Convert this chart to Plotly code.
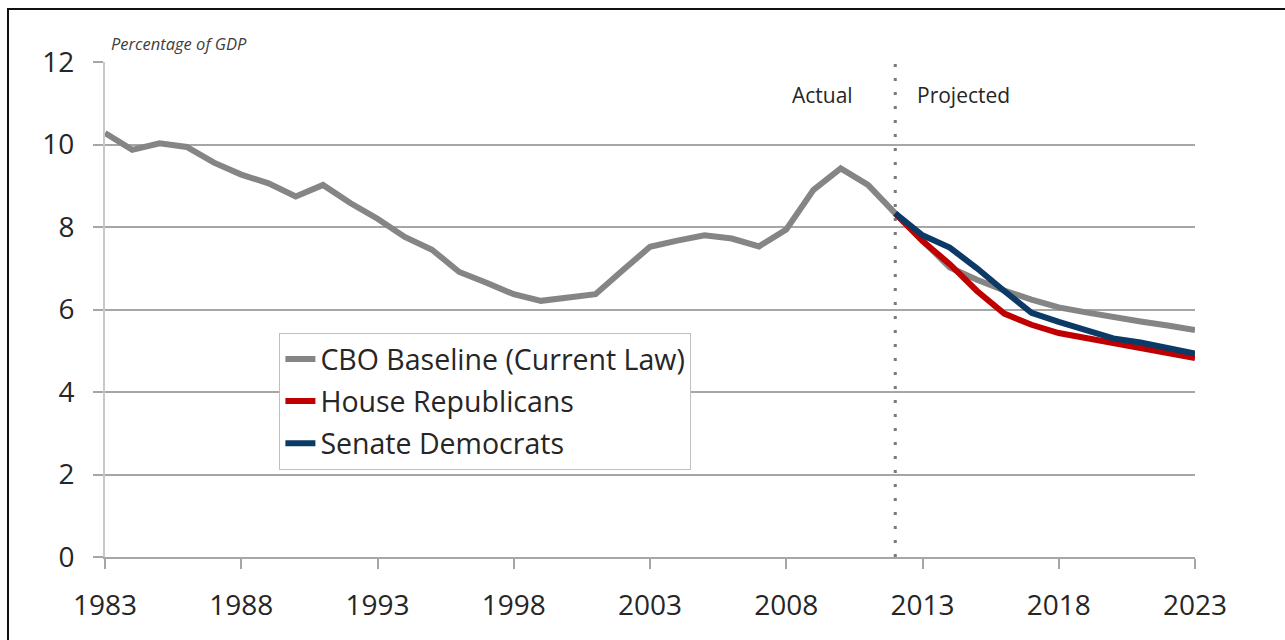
import plotly.graph_objects as go

# Interest / net outlays as a share of GDP, 1983-2023
years = list(range(1983, 2024))
cbo_baseline = [
    10.28, 9.87, 10.03, 9.94, 9.56, 9.27, 9.06, 8.74, 9.02, 8.58,
    8.20, 7.76, 7.45, 6.91, 6.65, 6.37, 6.21, 6.28, 6.37, 6.95,
    7.52, 7.67, 7.80, 7.72, 7.53, 7.94, 8.90, 9.42, 9.02, 8.33,
    7.66, 7.02, 6.72, 6.46, 6.24, 6.05, 5.93, 5.81, 5.71, 5.61, 5.50,
]

proj_years = list(range(2012, 2024))
house_republicans = [8.33, 7.66, 7.10, 6.45, 5.90, 5.63, 5.43, 5.31, 5.19, 5.09, 4.97, 4.82]
senate_democrats = [8.33, 7.80, 7.50, 7.00, 6.45, 5.92, 5.70, 5.50, 5.30, 5.20, 5.05, 4.93]

x_ticks = [1983, 1988, 1993, 1998, 2003, 2008, 2013, 2018, 2023]
y_ticks = [0, 2, 4, 6, 8, 10, 12]
split_year = 2012

FONT = "Open Sans"
TXT = "#262626"

fig = go.Figure()
fig.add_trace(go.Scatter(
    x=years, y=cbo_baseline, mode="lines", name="CBO Baseline (Current Law)",
    line=dict(color="#858585", width=6), legendgroup="a",
))
fig.add_trace(go.Scatter(
    x=proj_years, y=house_republicans, mode="lines", name="House Republicans",
    line=dict(color="#C00000", width=6), legendgroup="b",
))
fig.add_trace(go.Scatter(
    x=proj_years, y=senate_democrats, mode="lines", name="Senate Democrats",
    line=dict(color="#0B3A66", width=6), legendgroup="c",
))

# actual / projected divider
fig.add_shape(type="line", x0=split_year, x1=split_year, y0=0, y1=12,
              xref="x", yref="y", layer="below",
              line=dict(color="#7a7a7a", width=3, dash="3px,11px"))

# outer frame
fig.add_shape(type="rect", xref="paper", yref="paper",
              x0=-0.089, x1=1.3, y0=-0.4, y1=1.107,
              line=dict(color="#111111", width=2), fillcolor="rgba(0,0,0,0)")

fig.add_annotation(x=0.004, y=1.038, xref="paper", yref="paper",
                   xanchor="left", yanchor="middle", showarrow=False,
                   text="<i>Percentage of GDP</i>",
                   font=dict(family=FONT, size=16.5, color="#404040"))
fig.add_annotation(x=split_year, y=11.2, xref="x", yref="y",
                   xanchor="right", yanchor="middle", xshift=-40, showarrow=False,
                   text="Actual", font=dict(family=FONT, size=21, color=TXT))
fig.add_annotation(x=split_year, y=11.2, xref="x", yref="y",
                   xanchor="left", yanchor="middle", xshift=20, showarrow=False,
                   text="Projected", font=dict(family=FONT, size=21, color=TXT))

fig.update_layout(
    width=1285, height=640,
    margin=dict(l=105, r=90, t=62, b=83),
    paper_bgcolor="white", plot_bgcolor="white",
    font=dict(family=FONT, size=28, color=TXT),
    showlegend=True,
    legend=dict(
        x=0.16, y=0.4525, xanchor="left", yanchor="top",
        bgcolor="white", bordercolor="#BFBFBF", borderwidth=1,
        font=dict(family=FONT, size=28.5, color=TXT),
        tracegroupgap=2, itemwidth=30,
    ),
    xaxis=dict(
        range=[1983, 2023], tickmode="array", tickvals=x_ticks,
        ticktext=[str(v) for v in x_ticks],
        showgrid=False, zeroline=False,
        showline=True, linecolor="#A6A6A6", linewidth=2,
        ticks="outside", ticklen=10, tickwidth=2, tickcolor="#A6A6A6",
        ticklabelstandoff=12,
        tickfont=dict(family=FONT, size=28, color=TXT),
    ),
    yaxis=dict(
        range=[0, 12], tickmode="array", tickvals=y_ticks,
        showgrid=True, gridcolor="#A6A6A6", gridwidth=2, zeroline=False,
        showline=True, linecolor="#C8C8C8", linewidth=2,
        ticks="outside", ticklen=10, tickwidth=2, tickcolor="#A6A6A6",
        ticklabelstandoff=13,
        tickfont=dict(family=FONT, size=28, color=TXT),
    ),
)

fig.write_html("out.html")
